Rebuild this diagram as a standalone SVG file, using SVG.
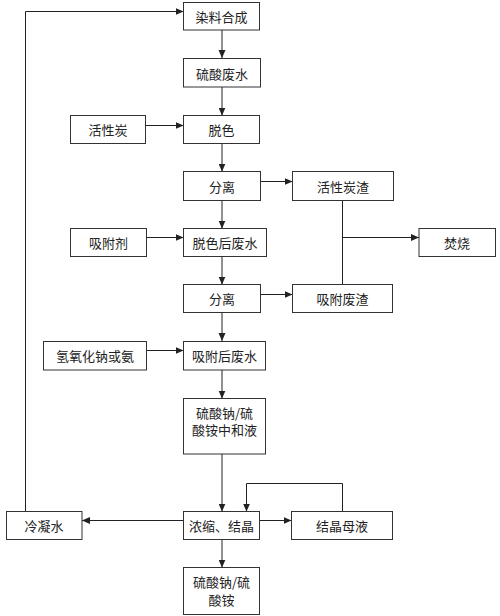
<svg xmlns="http://www.w3.org/2000/svg" width="500" height="616" viewBox="0 0 500 616">
<style>
.b{fill:#fff;stroke:#333;stroke-width:1}
.t{font-family:"Noto Sans CJK SC","Noto Sans CJK JP",sans-serif;font-size:13px;fill:#222;text-anchor:middle;dominant-baseline:central}
.c{fill:none;stroke:#222;stroke-width:1}
</style>
<defs>
<marker id="a" viewBox="0 0 8 8" refX="8" refY="4" markerWidth="8" markerHeight="8" markerUnits="userSpaceOnUse" orient="auto">
<path d="M0,0.5 L8,4 L0,7.5 Z" fill="#222"/>
</marker>
</defs>
<rect width="500" height="616" fill="#fff"/>
<g id="connectors">
<line class="c" x1="222" y1="30" x2="222" y2="58" marker-end="url(#a)"/>
<line class="c" x1="222" y1="87" x2="222" y2="115.5" marker-end="url(#a)"/>
<line class="c" x1="146" y1="125.5" x2="183.5" y2="125.5" marker-end="url(#a)"/>
<line class="c" x1="222" y1="143.5" x2="222" y2="171.5" marker-end="url(#a)"/>
<line class="c" x1="260" y1="181.5" x2="292.5" y2="181.5" marker-end="url(#a)"/>
<line class="c" x1="222" y1="200.5" x2="222" y2="228.5" marker-end="url(#a)"/>
<line class="c" x1="146.5" y1="237.5" x2="183.5" y2="237.5" marker-end="url(#a)"/>
<line class="c" x1="222" y1="256.5" x2="222" y2="284.5" marker-end="url(#a)"/>
<line class="c" x1="260" y1="294.5" x2="292.5" y2="294.5" marker-end="url(#a)"/>
<line class="c" x1="342.5" y1="200.5" x2="342.5" y2="284.5"/>
<line class="c" x1="342.5" y1="237.5" x2="419" y2="237.5" marker-end="url(#a)"/>
<line class="c" x1="222" y1="312.5" x2="222" y2="341" marker-end="url(#a)"/>
<line class="c" x1="146.5" y1="350.5" x2="183.5" y2="350.5" marker-end="url(#a)"/>
<line class="c" x1="222" y1="370" x2="222" y2="398.5" marker-end="url(#a)"/>
<line class="c" x1="222" y1="454" x2="222" y2="511.5" marker-end="url(#a)"/>
<line class="c" x1="183.5" y1="520.5" x2="82" y2="520.5" marker-end="url(#a)"/>
<line class="c" x1="259.5" y1="520.5" x2="291.5" y2="520.5" marker-end="url(#a)"/>
<polyline class="c" points="342.5,511.5 342.5,483.5 246.5,483.5 246.5,511.5" marker-end="url(#a)"/>
<line class="c" x1="222" y1="539.5" x2="222" y2="567.5" marker-end="url(#a)"/>
<polyline class="c" points="25.5,511.5 25.5,11.5 183.5,11.5" marker-end="url(#a)"/>
</g>
<g id="n1"><rect class="b" x="183.5" y="2.5" width="76" height="27.5"/><text class="t" x="221.5" y="16.5">染料合成</text></g>
<g id="n2"><rect class="b" x="183.5" y="58.5" width="77" height="28.5"/><text class="t" x="222" y="73">硫酸废水</text></g>
<g id="n3"><rect class="b" x="70.5" y="115.5" width="75" height="28"/><text class="t" x="108" y="129.5">活性炭</text></g>
<g id="n4"><rect class="b" x="183.5" y="115.5" width="76" height="28"/><text class="t" x="221.5" y="129.5">脱色</text></g>
<g id="n5"><rect class="b" x="183.5" y="171.5" width="77" height="29"/><text class="t" x="222" y="186">分离</text></g>
<g id="n6"><rect class="b" x="292.5" y="171.5" width="101" height="29"/><text class="t" x="343" y="186">活性炭渣</text></g>
<g id="n7"><rect class="b" x="70.5" y="228.5" width="76" height="28"/><text class="t" x="108.5" y="242.5">吸附剂</text></g>
<g id="n8"><rect class="b" x="183.5" y="228.5" width="83" height="28"/><text class="t" x="225" y="242.5">脱色后废水</text></g>
<g id="n9"><rect class="b" x="419" y="228.5" width="76.5" height="28"/><text class="t" x="457" y="242.5">焚烧</text></g>
<g id="n10"><rect class="b" x="183.5" y="284.5" width="77" height="28"/><text class="t" x="222" y="298.5">分离</text></g>
<g id="n11"><rect class="b" x="292.5" y="284.5" width="100" height="28"/><text class="t" x="342.5" y="298.5">吸附废渣</text></g>
<g id="n12"><rect class="b" x="43.5" y="341.5" width="103" height="28.5"/><text class="t" x="95" y="355.5">氢氧化钠或氨</text></g>
<g id="n13"><rect class="b" x="183.5" y="341.5" width="82" height="28.5"/><text class="t" x="224.5" y="355.5">吸附后废水</text></g>
<g id="n14"><rect class="b" x="183.5" y="398.5" width="82" height="55.5"/><text class="t" x="224.5" y="412">硫酸钠/硫</text><text class="t" x="224.5" y="429.5">酸铵中和液</text></g>
<g id="n15"><rect class="b" x="6.5" y="511.5" width="75.5" height="28"/><text class="t" x="44" y="525.5">冷凝水</text></g>
<g id="n16"><rect class="b" x="183.5" y="511.5" width="76" height="28"/><text class="t" x="221.5" y="525.5">浓缩、结晶</text></g>
<g id="n17"><rect class="b" x="291.5" y="511.5" width="101" height="28"/><text class="t" x="342" y="525.5">结晶母液</text></g>
<g id="n18"><rect class="b" x="183.5" y="567.5" width="76" height="47"/><text class="t" x="221.5" y="581.5">硫酸钠/硫</text><text class="t" x="221.5" y="599">酸铵</text></g>
</svg>
